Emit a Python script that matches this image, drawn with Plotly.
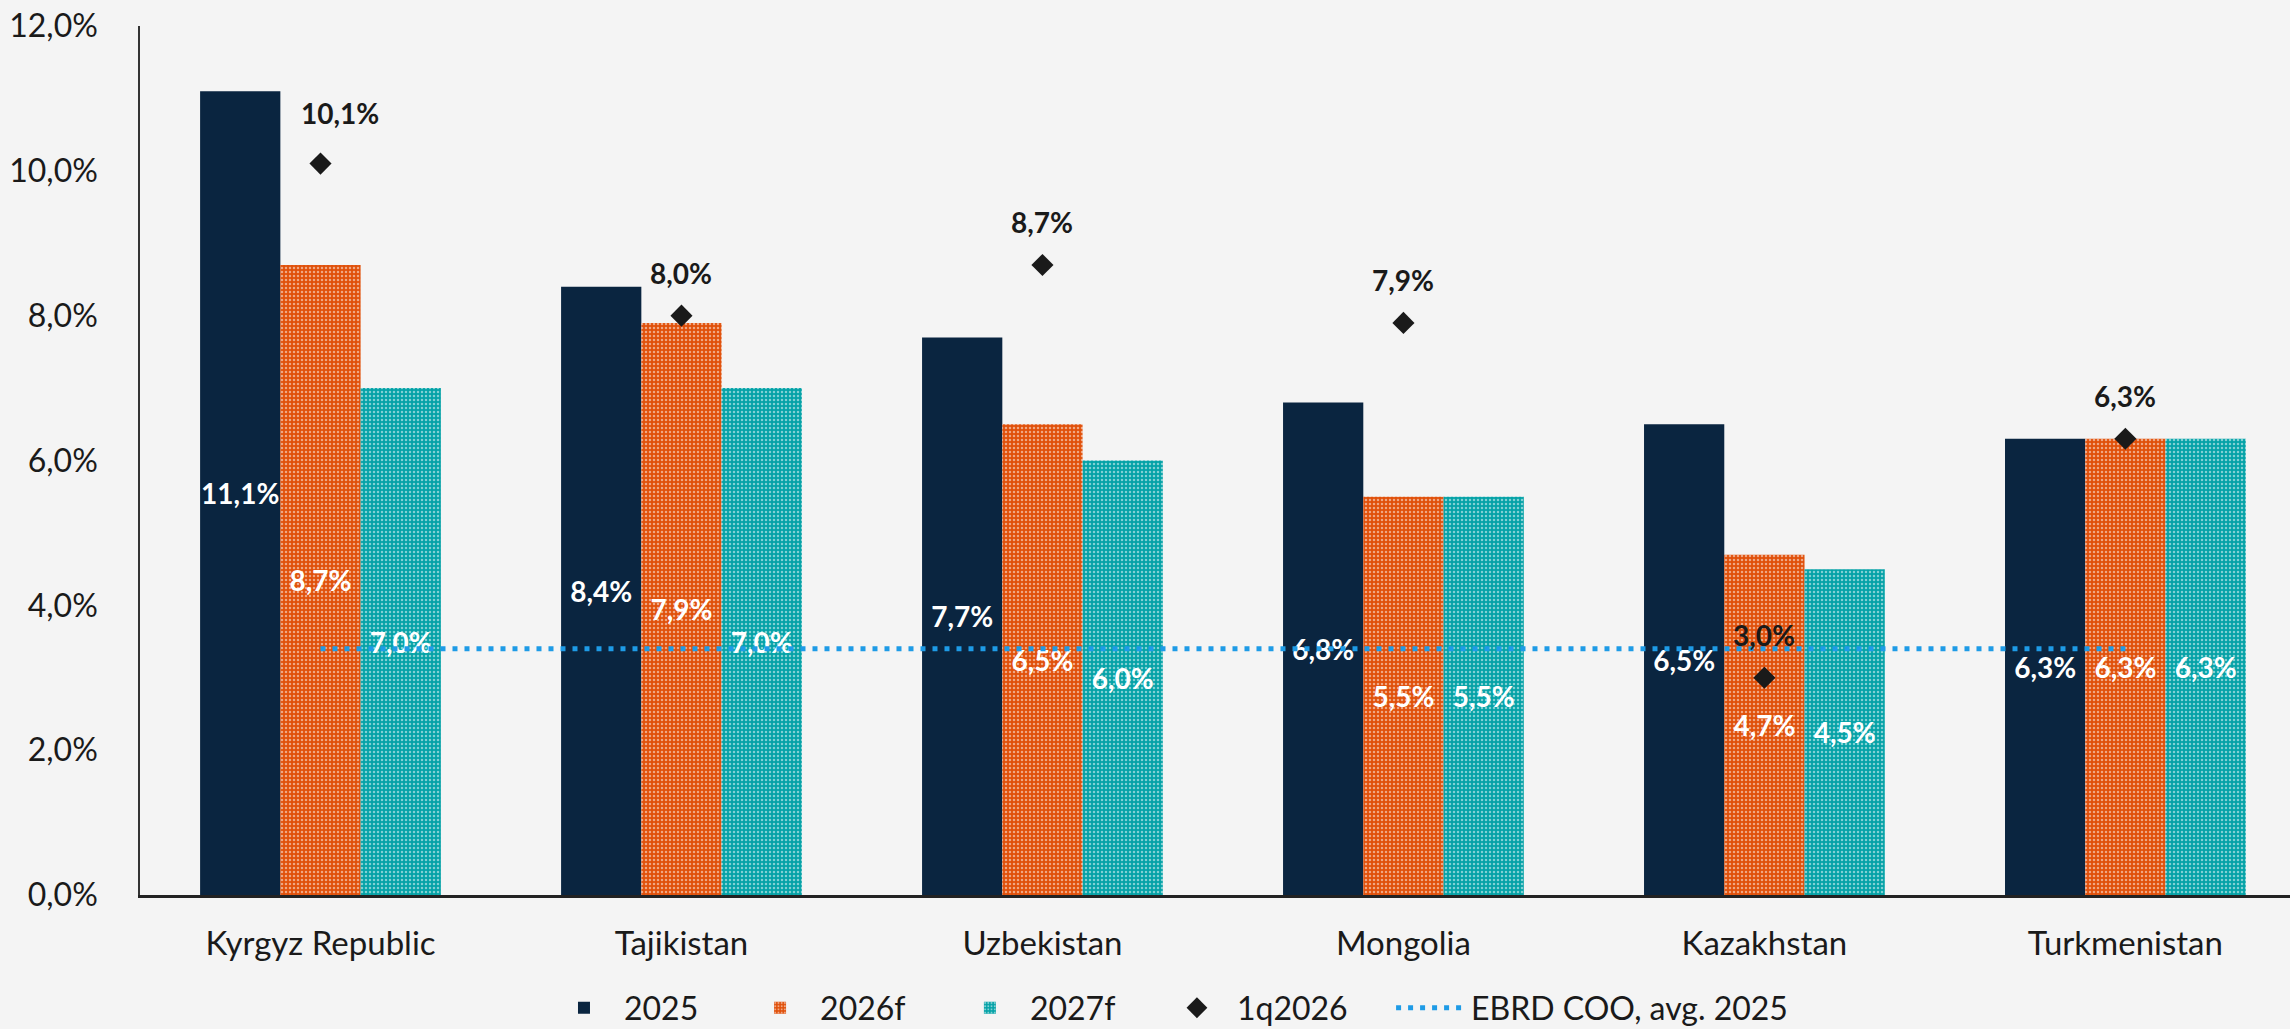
import plotly.graph_objects as go

countries = ["Kyrgyz Republic", "Tajikistan", "Uzbekistan", "Mongolia", "Kazakhstan", "Turkmenistan"]
v2025 = [11.1, 8.4, 7.7, 6.8, 6.5, 6.3]
v2026f = [8.7, 7.9, 6.5, 5.5, 4.7, 6.3]
v2027f = [7.0, 7.0, 6.0, 5.5, 4.5, 6.3]
q2026 = [10.1, 8.0, 8.7, 7.9, 3.0, 6.3]
ebrd_avg = 3.4
y_ticks = [0, 2, 4, 6, 8, 10, 12]

BG = "#f4f4f4"
NAVY = "#0a2540"
ORANGE = "#e0500a"
TEAL = "#04a2a7"
LINE = "#1e9be6"
TXT = "#1a1a1a"
FONT = "Lato"

def pct(v):
    return f"{v:.1f}".replace(".", ",") + "%"

fig = go.Figure()

bar_common = dict(
    textposition="inside", insidetextanchor="middle", constraintext="none",
    textangle=0, texttemplate="%{y:.1f}%",
    textfont=dict(family=FONT, size=28, color="white", weight="bold"),
)

fig.add_trace(go.Bar(name="2025", x=countries, y=v2025, legend="legend",
                     marker=dict(color=NAVY, line=dict(width=0)), **bar_common))
fig.add_trace(go.Bar(name="2026f", x=countries, y=v2026f, legend="legend2",
                     marker=dict(color=ORANGE, line=dict(width=0),
                                 pattern=dict(shape=".", fgcolor="white", bgcolor=ORANGE,
                                              size=4, solidity=0.3, fillmode="overlay")),
                     **bar_common))
fig.add_trace(go.Bar(name="2027f", x=countries, y=v2027f, legend="legend3",
                     marker=dict(color=TEAL, line=dict(width=0),
                                 pattern=dict(shape=".", fgcolor="white", bgcolor=TEAL,
                                              size=4, solidity=0.3, fillmode="overlay")),
                     **bar_common))
fig.add_trace(go.Scatter(name="1q2026", x=countries, y=q2026, mode="markers", legend="legend4",
                         marker=dict(symbol="diamond", size=17, color=TXT)))
fig.add_trace(go.Scatter(name="EBRD COO, avg. 2025", x=countries, legend="legend5",
                         y=[ebrd_avg] * len(countries), mode="lines",
                         line=dict(color=LINE, width=5, dash="5px,7px")))

# labels above the diamonds (Kyrgyz label dragged slightly right/up, as in source)
label_shift = {"Kyrgyz Republic": (20, 51)}
for c, v in zip(countries, q2026):
    xs, ys = label_shift.get(c, (0, 43))
    fig.add_annotation(x=c, y=v, text=f"<b>{pct(v)}</b>", showarrow=False,
                       xshift=xs, yshift=ys,
                       font=dict(family=FONT, size=28, color=TXT))

def leg(x):
    return dict(orientation="h", x=x, xanchor="left", y=-0.13, yanchor="middle",
                font=dict(family=FONT, size=32, color=TXT), bgcolor="rgba(0,0,0,0)",
                itemwidth=70)

fig.update_layout(
    width=2290, height=1029,
    paper_bgcolor=BG, plot_bgcolor=BG,
    barmode="group", bargap=0.333, bargroupgap=0,
    separators=",.",
    margin=dict(l=140, r=0, t=26, b=134, autoexpand=False),
    font=dict(family=FONT, size=32, color=TXT),
    showlegend=True,
    legend=leg(0.1879), legend2=leg(0.2791), legend3=leg(0.3767),
    legend4=leg(0.4730), legend5=leg(0.5819),
    xaxis=dict(range=[-0.5, 5.456], showline=True, linecolor="#222222", linewidth=2.5,
               showgrid=False, ticks="", ticklabelstandoff=18, tickfont=dict(size=33)),
    yaxis=dict(range=[0, 12], tickvals=y_ticks, ticktext=[pct(v) for v in y_ticks],
               showline=True, linecolor="#333333", linewidth=1.5, showgrid=False,
               zeroline=False, ticks="", ticklabelstandoff=34, tickfont=dict(size=32)),
)

fig.write_html("out.html", config={"displayModeBar": False},
               post_script="document.body.style.margin='0px';")
